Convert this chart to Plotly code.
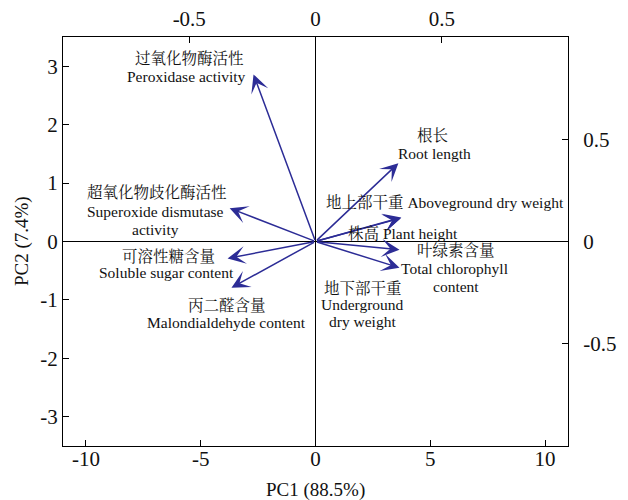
import plotly.graph_objects as go

# Variable loadings (PC1, PC2) in score-axis units
variables = ["Peroxidase activity", "Superoxide dismutase activity", "Soluble sugar content",
             "Malondialdehyde content", "Root length", "Aboveground dry weight",
             "Plant height", "Total chlorophyll content", "Underground dry weight"]
pc1 = [-2.70, -3.74, -3.83, -3.66, 3.61, 3.74, 3.72, 3.66, 3.66]
pc2 = [2.86, 0.57, -0.29, -0.79, 1.34, 0.41, 0.40, -0.14, -0.45]

bottom_ticks = [-10, -5, 0, 5, 10]
bottom_labels = ["-10", "-5", "0", "5", "10"]
left_ticks = [-3, -2, -1, 0, 1, 2, 3]
left_labels = ["-3", "-2", "-1", "0", "1", "2", "3"]
top_ticks = [-0.5, 0, 0.5]
top_labels = ["-0.5", "0", "0.5"]
right_ticks = [-0.5, 0, 0.5]
right_labels = ["-0.5", "0", "0.5"]

# Label texts
label_texts = ["过氧化物酶活性", "Peroxidase activity",
               "超氧化物歧化酶活性", "Superoxide dismutase", "activity",
               "可溶性糖含量", "Soluble sugar content",
               "丙二醛含量", "Malondialdehyde content",
               "根长", "Root length",
               "地上部干重 Aboveground dry weight",
               "株高 Plant height",
               "叶绿素含量", "Total chlorophyll", "content",
               "地下部干重", "Underground", "dry weight"]
# layout positions for labels (data coords)
label_pos = [(-5.48, 3.13), (-5.61, 2.83),
             (-6.92, 0.84), (-6.96, 0.51), (-6.96, 0.21),
             (-6.40, -0.26), (-6.48, -0.53),
             (-3.87, -1.10), (-3.87, -1.39),
             (5.09, 1.82), (5.18, 1.51),
             (5.66, 0.68),
             (3.79, 0.15),
             (6.14, -0.15), (6.05, -0.46), (6.14, -0.77),
             (2.05, -0.79), (2.05, -1.08), (2.05, -1.37)]

FONT = "Liberation Serif, Noto Serif CJK SC, Noto Sans CJK SC, serif"
ARROW = "#2c2c96"

fig = go.Figure()
fig.add_trace(go.Scatter(x=[0], y=[0], mode="markers", marker=dict(size=1, color="rgba(0,0,0,0)"),
                         showlegend=False, hoverinfo="skip"))
fig.add_trace(go.Scatter(x=[0], y=[0], xaxis="x2", yaxis="y2", mode="markers",
                         marker=dict(size=1, color="rgba(0,0,0,0)"), showlegend=False, hoverinfo="skip"))

annotations = []
for x, y in zip(pc1, pc2):
    annotations.append(dict(x=x, y=y, ax=0, ay=0, xref="x", yref="y", axref="x", ayref="y",
                            showarrow=True, arrowhead=3, arrowsize=2.0, arrowwidth=1.5,
                            arrowcolor=ARROW, text=""))
for t, (x, y) in zip(label_texts, label_pos):
    annotations.append(dict(x=x, y=y, xref="x", yref="y", text=t, showarrow=False,
                            font=dict(family=FONT, size=15.5, color="#111")))

# axis titles
annotations.append(dict(x=0.5, y=-0.075, xref="paper", yref="paper", xanchor="center", yanchor="top",
                        text="PC1 (88.5%)", showarrow=False,
                        font=dict(family=FONT, size=19, color="#111")))
annotations.append(dict(x=-0.082, y=0.5, xref="paper", yref="paper", xanchor="center", yanchor="middle",
                        text="PC2 (7.4%)", textangle=-90, showarrow=False,
                        font=dict(family=FONT, size=19, color="#111")))

axis_common = dict(showline=True, linecolor="black", linewidth=1.2, ticks="inside", ticklen=6,
                   tickcolor="black", tickwidth=1.2, showgrid=False, mirror=False, automargin=False,
                   tickfont=dict(family=FONT, size=21, color="#111"))

fig.update_layout(
    width=628, height=500,
    margin=dict(l=63, r=60, t=37, b=54),
    paper_bgcolor="white", plot_bgcolor="white",
    showlegend=False,
    xaxis=dict(range=[-11, 11], tickvals=bottom_ticks, ticktext=bottom_labels, zeroline=True,
               zerolinecolor="black", zerolinewidth=1.2, ticklabelstandoff=-6, **axis_common),
    yaxis=dict(range=[-3.5, 3.5], tickvals=left_ticks, ticktext=left_labels, zeroline=True,
               zerolinecolor="black", zerolinewidth=1.2, **axis_common),
    xaxis2=dict(range=[-1, 1], tickvals=top_ticks, ticktext=top_labels, overlaying="x",
                side="top", anchor="y", zeroline=False, ticklabelstandoff=2, **axis_common),
    yaxis2=dict(range=[-1, 1], tickvals=right_ticks, ticktext=right_labels, overlaying="y",
                side="right", anchor="x", zeroline=False, ticklabelstandoff=10, **axis_common),
    annotations=annotations,
)

fig.write_html("out.html", config={"displayModeBar": False},
               post_script="document.body.style.margin='0';document.body.style.overflow='hidden';")
